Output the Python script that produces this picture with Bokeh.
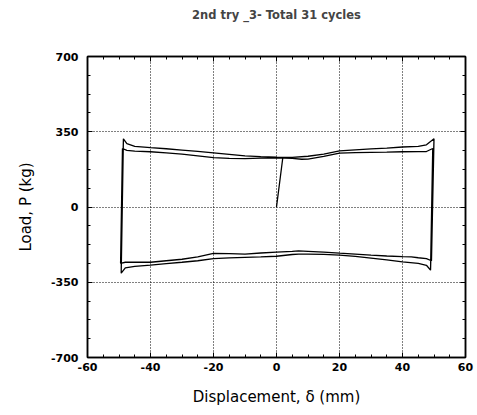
from bokeh.plotting import figure
from bokeh.models import LinearAxis, Range1d, FixedTicker
from bokeh.embed import file_html
from bokeh.resources import INLINE

# ---- data ----
init_x = [0.0, 2.0]
init_y = [0.0, 229.0]

# upper branch (displacement increasing), two visible cycles
upA_x = [-48.6, -47.5, -45, -40, -35, -30, -25, -20, -15, -10, -5, 0, 5, 10, 15, 20, 25, 30, 35, 40, 45, 47.6, 50.0]
upA_y = [317, 295, 282, 276, 271, 265, 259, 252, 245, 238, 234, 232, 231, 236, 246, 261, 266, 270, 274, 279, 282, 289, 317]
upB_x = [-48.9, -47.5, -45, -40, -35, -30, -25, -20, -15, -10, -5, 0, 5, 8, 10, 15, 20, 25, 30, 35, 40, 45, 47.6, 49.6]
upB_y = [272, 263, 260, 257, 252, 246, 238, 230, 226, 225, 227, 229, 226, 222, 223, 235, 251, 253, 254, 255, 257, 258, 258, 272]

# lower branch (displacement decreasing)
loA_x = [48.9, 47.6, 45, 40, 35, 30, 25, 20, 15, 10, 7, 5, 0, -5, -10, -15, -20, -25, -30, -35, -40, -45, -48, -49.3]
loA_y = [-294, -271, -262, -255, -246, -238, -230, -224, -220, -219, -219, -221, -229, -232, -234, -237, -240, -250, -257, -263, -270, -276, -283, -308]
loB_x = [49.2, 47.6, 45, 42.8, 40, 35, 30, 25, 20, 15, 10, 7, 5, 0, -5, -10, -15, -20, -25, -30, -35, -40, -45, -48, -49.5]
loB_y = [-250, -240, -236, -232, -231, -228, -224, -219, -215, -210, -206, -204, -206, -210, -214, -219, -217, -216, -232, -243, -250, -257, -257, -257, -262]

x_ticks = [-60, -40, -20, 0, 20, 40, 60]
y_ticks = [-700, -350, 0, 350, 700]
x_minor = list(range(-60, 61, 5))
y_minor = [-700, -612.5, -525, -437.5, -350, -262.5, -175, -87.5, 0,
           87.5, 175, 262.5, 350, 437.5, 525, 612.5, 700]
title_text = "2nd try _3- Total 31 cycles"

# ---- assemble path: initial loading, then the cycles ----
first_up = [(x, y) for x, y in zip(upA_x, upA_y) if x > 2.0]
path_x = init_x + [x for x, _ in first_up] + loA_x + upA_x + loB_x + upB_x + loA_x + upB_x + loB_x + upA_x
path_y = init_y + [y for _, y in first_up] + loA_y + upA_y + loB_y + upB_y + loA_y + upB_y + loB_y + upA_y

p = figure(width=477, height=415, output_backend="svg", toolbar_location=None,
           x_range=Range1d(-60, 60), y_range=Range1d(-700, 700),
           min_border_left=87, min_border_right=12, min_border_top=56, min_border_bottom=58,
           background_fill_color="white", border_fill_color="white")

p.line(path_x, path_y, line_color="black", line_width=1.3)

tfont = "DejaVu Sans"
p.title.text = title_text
p.title.text_font = tfont
p.title.text_font_size = "11.5px"
p.title.text_font_style = "bold"
p.title.align = "center"
p.title.standoff = 10

p.outline_line_color = "black"
p.outline_line_width = 1.5

for ax in [p.xaxis[0], p.yaxis[0]]:
    ax.major_tick_in = 5
    ax.major_tick_out = 0
    ax.minor_tick_in = 3
    ax.minor_tick_out = 0
    ax.axis_line_color = "black"
    ax.axis_line_width = 1.5
    ax.major_tick_line_color = "black"
    ax.minor_tick_line_color = "black"
    ax.major_label_text_font = tfont
    ax.major_label_text_font_style = "bold"
    ax.major_label_text_font_size = "11px"
    ax.major_label_text_color = "black"
    ax.axis_label_text_font = tfont
    ax.axis_label_text_font_style = "normal"
    ax.axis_label_text_font_size = "15px"
    ax.axis_label_text_color = "black"

p.xaxis[0].ticker = FixedTicker(ticks=x_ticks, minor_ticks=x_minor)
p.yaxis[0].ticker = FixedTicker(ticks=y_ticks, minor_ticks=y_minor)
p.xaxis[0].major_label_overrides = {t: str(t) for t in x_ticks}
p.yaxis[0].major_label_overrides = {t: str(t) for t in y_ticks}
p.xaxis[0].axis_label = "Displacement, \u03b4 (mm)"
p.yaxis[0].axis_label = "Load, P (kg)"
p.xaxis[0].major_label_standoff = 5
p.yaxis[0].major_label_standoff = 9
p.xaxis[0].axis_label_standoff = 14
p.yaxis[0].axis_label_standoff = 13

for loc, tk, mn in [("above", x_ticks, x_minor), ("right", y_ticks, y_minor)]:
    ax = LinearAxis(ticker=FixedTicker(ticks=tk, minor_ticks=mn))
    ax.major_tick_in = 5
    ax.major_tick_out = 0
    ax.minor_tick_in = 3
    ax.minor_tick_out = 0
    ax.axis_line_color = "black"
    ax.axis_line_width = 1.5
    ax.major_label_text_font_size = "0px"
    ax.major_label_text_alpha = 0
    ax.major_label_overrides = {t: "" for t in tk}
    ax.major_label_standoff = 0
    p.add_layout(ax, loc)

# invisible spacer axis: lifts the title away from the frame
spacer = LinearAxis(ticker=FixedTicker(ticks=x_ticks, minor_ticks=[]))
spacer.major_tick_in = 0
spacer.major_tick_out = 30
spacer.minor_tick_in = 0
spacer.minor_tick_out = 0
spacer.major_tick_line_alpha = 0
spacer.minor_tick_line_alpha = 0
spacer.axis_line_alpha = 0
spacer.major_label_text_font_size = "0px"
spacer.major_label_text_alpha = 0
spacer.major_label_overrides = {t: "" for t in x_ticks}
spacer.major_label_standoff = 0
p.add_layout(spacer, "above")

p.xgrid.ticker = FixedTicker(ticks=x_ticks)
p.ygrid.ticker = FixedTicker(ticks=y_ticks)
for g in [p.xgrid[0], p.ygrid[0]]:
    g.grid_line_color = "black"
    g.grid_line_dash = "1 2"
    g.grid_line_width = 1

open("out.html", "w").write(file_html(p, INLINE))
